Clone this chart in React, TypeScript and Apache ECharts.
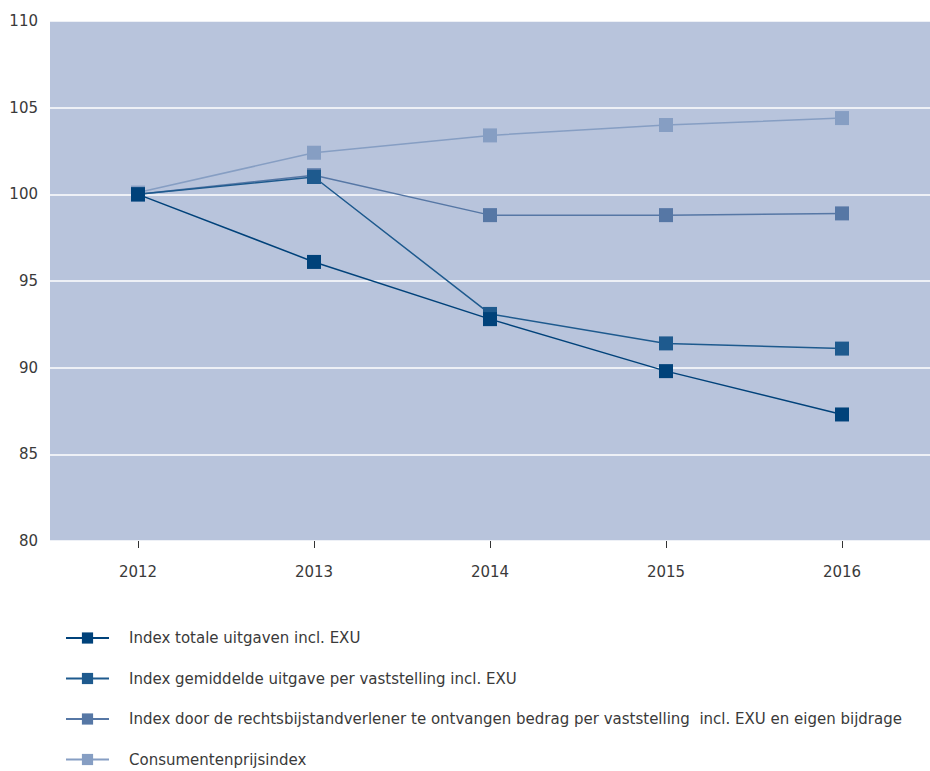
import React, { useEffect, useRef } from "react";
import * as echarts from "echarts";

const years = ["2012", "2013", "2014", "2015", "2016"];
const totaleUitgaven = [100, 96.1, 92.8, 89.8, 87.3];
const gemiddeldeUitgave = [100, 101.0, 93.1, 91.4, 91.1];
const doorRechtsbijstand = [100, 101.1, 98.8, 98.8, 98.9];
const consumentenprijs = [100.1, 102.4, 103.4, 104.0, 104.4];

const seriesNames = [
  "Index totale uitgaven incl. EXU",
  "Index gemiddelde uitgave per vaststelling incl. EXU",
  "Index door de rechtsbijstandverlener te ontvangen bedrag per vaststelling  incl. EXU en eigen bijdrage",
  "Consumentenprijsindex",
];
const colors = ["#00427A", "#1E5A8E", "#5677A5", "#869EC3"];
const font = "'DejaVu Sans', sans-serif";

export default function App() {
  const ref = useRef<HTMLDivElement>(null);
  useEffect(() => {
    if (!ref.current) return;
    const chart = echarts.init(ref.current, undefined, { renderer: "svg" });
    const dataSets = [totaleUitgaven, gemiddeldeUitgave, doorRechtsbijstand, consumentenprijs];
    chart.setOption({
      animation: false,
      textStyle: { fontFamily: font },
      grid: {
        left: 50,
        right: 0,
        top: 21,
        bottom: 230,
        show: true,
        backgroundColor: "#B8C4DC",
        borderWidth: 0,
      },
      xAxis: {
        type: "category",
        data: years,
        boundaryGap: true,
        axisLine: { show: false },
        axisTick: {
          show: true,
          alignWithLabel: true,
          length: 7,
          lineStyle: { color: "#333", width: 1 },
        },
        axisLabel: { color: "#3a3a3a", fontSize: 15, margin: 23, fontFamily: font },
      },
      yAxis: {
        type: "value",
        min: 80,
        max: 110,
        interval: 5,
        axisLine: { show: false },
        axisTick: { show: false },
        axisLabel: { color: "#3a3a3a", fontSize: 15, margin: 12, fontFamily: font },
        splitLine: { show: true, lineStyle: { color: "#ffffff", width: 1.5 } },
      },
      legend: {
        orient: "vertical",
        left: 65,
        top: 629,
        padding: 0,
        itemWidth: 43,
        itemHeight: 14,
        itemGap: 22.5,
        data: seriesNames,
        textStyle: {
          color: "#3a3a3a",
          fontSize: 15,
          lineHeight: 18,
          padding: [0, 0, 0, 15],
          fontFamily: font,
        },
      },
      series: dataSets.map((d, i) => ({
        name: seriesNames[i],
        type: "line",
        data: d,
        symbol: "rect",
        symbolSize: 14,
        color: colors[i],
        lineStyle: { color: colors[i], width: 1.5 },
        itemStyle: { color: colors[i] },
        z: 10 - i,
      })),
    });
    return () => chart.dispose();
  }, []);
  return (
    <div
      ref={ref}
      style={{ width: 930, height: 771, position: "absolute", left: 0, top: 0 }}
    />
  );
}
